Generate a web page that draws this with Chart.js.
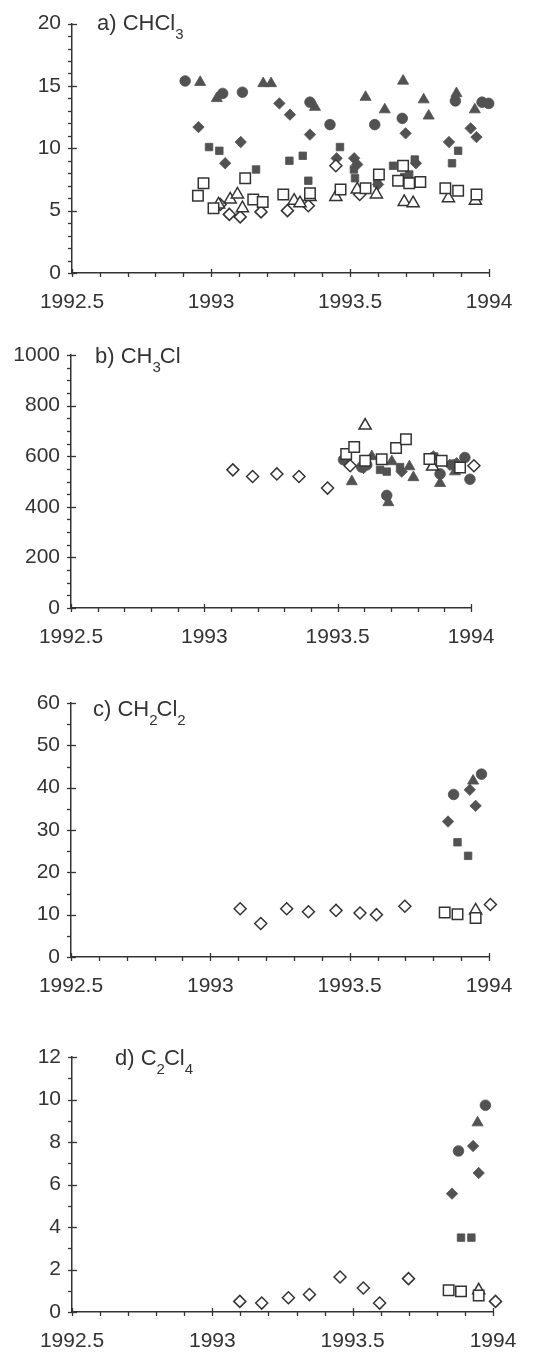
<!DOCTYPE html>
<html>
<head>
<meta charset="utf-8">
<script src="https://cdn.jsdelivr.net/npm/chart.js@4.4.1/dist/chart.umd.min.js"></script>
<style>
  html, body { margin: 0; padding: 0; background: #fff; }
  body { width: 537px; height: 1353px; position: relative; overflow: hidden; }
  canvas { position: absolute; left: 0; }
</style>
</head>
<body>
<canvas id="panelA" width="537" height="330" style="top:0px"></canvas>
<canvas id="panelB" width="537" height="330" style="top:330px"></canvas>
<canvas id="panelC" width="537" height="340" style="top:660px"></canvas>
<canvas id="panelD" width="537" height="353" style="top:1000px"></canvas>
<script>
// ---- shared axis labels ----
const xTickLabels = ['1992.5', '1993', '1993.5', '1994'];
const yTicksA = ['0', '5', '10', '15', '20'];
const yTicksB = ['0', '200', '400', '600', '800', '1000'];
const yTicksC = ['0', '10', '20', '30', '40', '50', '60'];
const yTicksD = ['0', '2', '4', '6', '8', '10', '12'];

// ---- a) CHCl3 : [decimal year, concentration] ----
const chcl3Circle = [[1992.907,15.4],[1993.042,14.4],[1993.113,14.5],[1993.356,13.7],[1993.428,11.9],[1993.589,11.9],[1993.688,12.4],[1993.879,13.8],[1993.975,13.7],[1993.999,13.6]];
const chcl3Triangle = [[1992.961,15.3],[1993.021,14.0],[1993.188,15.2],[1993.216,15.2],[1993.374,13.3],[1993.556,14.1],[1993.625,13.1],[1993.691,15.4],[1993.765,13.9],[1993.783,12.6],[1993.883,14.4],[1993.949,13.1]];
const chcl3Diamond = [[1992.955,11.7],[1993.051,8.8],[1993.107,10.5],[1993.246,13.6],[1993.284,12.7],[1993.356,11.1],[1993.452,9.2],[1993.515,9.2],[1993.526,8.7],[1993.601,7.1],[1993.700,11.2],[1993.737,8.8],[1993.856,10.5],[1993.934,11.6],[1993.955,10.9]];
const chcl3Square = [[1992.993,10.1],[1993.030,9.8],[1993.162,8.3],[1993.282,9.0],[1993.330,9.4],[1993.350,7.4],[1993.464,10.1],[1993.514,8.3],[1993.518,7.6],[1993.598,7.2],[1993.655,8.6],[1993.695,7.7],[1993.713,7.9],[1993.733,9.1],[1993.867,8.8],[1993.889,9.8]];
const chcl3OpenSquare = [[1992.953,6.2],[1992.973,7.2],[1993.009,5.2],[1993.123,7.6],[1993.152,5.9],[1993.186,5.7],[1993.260,6.3],[1993.356,6.4],[1993.466,6.7],[1993.556,6.8],[1993.604,7.9],[1993.673,7.4],[1993.691,8.6],[1993.713,7.2],[1993.753,7.3],[1993.843,6.8],[1993.889,6.6],[1993.955,6.3]];
const chcl3OpenTriangle = [[1993.027,5.5],[1993.069,5.9],[1993.095,6.3],[1993.113,5.2],[1993.299,5.8],[1993.320,5.6],[1993.356,6.1],[1993.449,6.1],[1993.526,6.7],[1993.595,6.3],[1993.695,5.7],[1993.727,5.6],[1993.854,6.0],[1993.951,5.8]];
const chcl3OpenDiamond = [[1993.033,5.5],[1993.066,4.7],[1993.105,4.5],[1993.180,4.9],[1993.275,5.0],[1993.350,5.4],[1993.449,8.6],[1993.535,6.3]];

// ---- b) CH3Cl ----
const ch3clCircle = [[1993.522,586],[1993.590,557],[1993.609,566],[1993.684,445],[1993.884,530],[1993.936,566],[1993.977,595],[1993.996,509]];
const ch3clTriangle = [[1993.553,500],[1993.628,599],[1993.690,417],[1993.703,579],[1993.769,559],[1993.784,516],[1993.884,493],[1993.940,539]];
const ch3clDiamond = [[1993.528,582],[1993.597,553],[1993.740,539],[1993.859,599],[1993.921,566],[1993.946,572]];
const ch3clSquare = [[1993.659,546],[1993.684,539],[1993.734,557],[1993.862,599],[1993.890,583]];
const ch3clOpenSquare = [[1993.532,609],[1993.562,636],[1993.603,582],[1993.665,588],[1993.719,632],[1993.756,667],[1993.844,589],[1993.890,582],[1993.959,555]];
const ch3clOpenTriangle = [[1993.603,721],[1993.856,559]];
const ch3clOpenDiamond = [[1993.107,546],[1993.181,520],[1993.272,530],[1993.355,520],[1993.462,474],[1993.547,562],[1994.011,562]];

// ---- c) CH2Cl2 ----
const ch2cl2Circle = [[1993.873,38.4],[1993.973,43.2]];
const ch2cl2Triangle = [[1993.943,41.6]];
const ch2cl2Diamond = [[1993.853,32.0],[1993.931,39.5],[1993.952,35.7]];
const ch2cl2Square = [[1993.887,27.1],[1993.925,23.9]];
const ch2cl2OpenSquare = [[1993.841,10.5],[1993.887,10.1],[1993.952,9.2]];
const ch2cl2OpenTriangle = [[1993.952,11.0]];
const ch2cl2OpenDiamond = [[1993.107,11.4],[1993.181,7.9],[1993.274,11.4],[1993.352,10.7],[1993.451,11.0],[1993.537,10.4],[1993.596,10.0],[1993.698,12.0],[1994.005,12.4]];

// ---- d) C2Cl4 ----
const c2cl4Circle = [[1993.877,7.58],[1993.973,9.73]];
const c2cl4Triangle = [[1993.945,8.91]];
const c2cl4Diamond = [[1993.854,5.57],[1993.929,7.81],[1993.949,6.54]];
const c2cl4Square = [[1993.886,3.5],[1993.923,3.5]];
const c2cl4OpenSquare = [[1993.842,1.02],[1993.886,0.97],[1993.949,0.78]];
const c2cl4OpenTriangle = [[1993.949,1.02]];
const c2cl4OpenDiamond = [[1993.098,0.50],[1993.176,0.42],[1993.271,0.67],[1993.346,0.82],[1993.455,1.65],[1993.538,1.13],[1993.596,0.42],[1993.699,1.57],[1994.009,0.50]];

// ---- marker styles ----
const INK = '#333333';
const FILL = '#525252';
const FONT = "'Liberation Sans', Arial, Helvetica, sans-serif";
const SYMBOLS = {
  circle:       { pointStyle: 'circle',   radius: 5.3, filled: true },
  triangle:     { pointStyle: 'triangle', radius: 6.4, filled: true },
  diamond:      { pointStyle: 'rectRot',  radius: 5.7, filled: true },
  square:       { pointStyle: 'rect',     radius: 5.3, filled: true },
  openSquare:   { pointStyle: 'rect',     radius: 7.4, filled: false },
  openTriangle: { pointStyle: 'triangle', radius: 7.0, filled: false },
  openDiamond:  { pointStyle: 'rectRot',  radius: 6.0, filled: false }
};

function dataset(points, symbolName) {
  const s = SYMBOLS[symbolName];
  return {
    label: symbolName,
    data: points.map(([x, y]) => ({ x, y })),
    pointStyle: s.pointStyle,
    pointRadius: s.radius,
    pointHoverRadius: s.radius,
    backgroundColor: s.filled ? FILL : '#ffffff',
    borderColor: s.filled ? FILL : INK,
    pointBorderWidth: s.filled ? 0.8 : 1.5,
    showLine: false,
    clip: false
  };
}

// minor/major tick marks and the panel caption with subscripts
const panelDecor = {
  id: 'panelDecor',
  afterDraw(chart, args, opts) {
    const ctx = chart.ctx;
    const xs = chart.scales.x, ys = chart.scales.y;
    const axisY = ys.bottom, axisX = xs.left;
    ctx.save();
    ctx.strokeStyle = INK;
    ctx.lineWidth = 1.3;
    // x ticks every 0.1 year, long ones every half year
    for (let i = 0; i <= 15; i++) {
      const v = 1992.5 + i * 0.1;
      const px = Math.round(xs.getPixelForValue(v)) + 0.5;
      const major = i % 5 === 0;
      ctx.beginPath();
      ctx.moveTo(px, major ? axisY - 4 : axisY);
      ctx.lineTo(px, axisY + 4);
      ctx.stroke();
    }
    // y ticks
    const n = Math.round(ys.max / opts.yMinor);
    const per = Math.round(opts.yMajor / opts.yMinor);
    for (let i = 0; i <= n; i++) {
      const v = i * opts.yMinor;
      const py = Math.round(ys.getPixelForValue(v)) + 0.5;
      const major = i % per === 0;
      ctx.beginPath();
      ctx.moveTo(axisX - 4, py);
      ctx.lineTo(major ? axisX + 5 : axisX, py);
      ctx.stroke();
    }
    // caption
    const t = opts.title;
    let x = t.x;
    ctx.fillStyle = INK;
    ctx.textBaseline = 'alphabetic';
    ctx.textAlign = 'left';
    for (const seg of t.parts) {
      const sub = seg.startsWith('_');
      const txt = sub ? seg.slice(1) : seg;
      ctx.font = (sub ? '15px ' : '22px ') + FONT;
      ctx.fillText(txt, x, sub ? t.y + 9 : t.y);
      x += ctx.measureText(txt).width + (sub ? -1 : 0);
    }
    ctx.restore();
  }
};

function makePanel(id, cfg) {
  const tickFont = { family: FONT, size: 21 };
  return new Chart(document.getElementById(id), {
    type: 'scatter',
    data: { datasets: cfg.series.map(([pts, sym]) => dataset(pts, sym)) },
    options: {
      responsive: false,
      animation: false,
      events: [],
      layout: { padding: { left: 0, right: cfg.padRight, top: cfg.padTop, bottom: 0 } },
      plugins: {
        legend: { display: false },
        tooltip: { enabled: false },
        panelDecor: { title: cfg.title, yMinor: cfg.yMinor, yMajor: cfg.yStep }
      },
      scales: {
        x: {
          type: 'linear',
          min: 1992.5,
          max: 1994,
          afterFit(scale) { scale.height = cfg.xAxisHeight; },
          grid: { display: false, drawTicks: false },
          border: { display: true, color: INK, width: 1.5 },
          ticks: {
            stepSize: 0.5,
            padding: 17,
            maxRotation: 0,
            autoSkip: false,
            font: tickFont,
            color: INK,
            callback: (v) => xTickLabels[Math.round((v - 1992.5) * 2)]
          }
        },
        y: {
          type: 'linear',
          min: 0,
          max: cfg.yMax,
          afterFit(scale) { scale.width = cfg.left; },
          grid: { display: false, drawTicks: false },
          border: { display: true, color: INK, width: 1.5 },
          ticks: {
            stepSize: cfg.yStep,
            padding: 11,
            autoSkip: false,
            font: tickFont,
            color: INK,
            callback: (v) => cfg.yLabels[Math.round(v / cfg.yStep)]
          }
        }
      }
    },
    plugins: [panelDecor]
  });
}

makePanel('panelA', {
  left: 72, padRight: 48, padTop: 19, xAxisHeight: 57,
  yMax: 20, yStep: 5, yMinor: 1, yLabels: yTicksA,
  title: { x: 97, y: 30, parts: ['a) CHCl', '_3'] },
  series: [
    [chcl3OpenSquare, 'openSquare'], [chcl3OpenTriangle, 'openTriangle'], [chcl3OpenDiamond, 'openDiamond'],
    [chcl3Square, 'square'], [chcl3Diamond, 'diamond'], [chcl3Circle, 'circle'], [chcl3Triangle, 'triangle']
  ]
});

makePanel('panelB', {
  left: 71, padRight: 66, padTop: 25, xAxisHeight: 52,
  yMax: 1000, yStep: 200, yMinor: 50, yLabels: yTicksB,
  title: { x: 95, y: 33, parts: ['b) CH', '_3', 'Cl'] },
  series: [
    [ch3clOpenDiamond, 'openDiamond'], [ch3clOpenSquare, 'openSquare'], [ch3clOpenTriangle, 'openTriangle'],
    [ch3clSquare, 'square'], [ch3clDiamond, 'diamond'], [ch3clCircle, 'circle'], [ch3clTriangle, 'triangle']
  ]
});

makePanel('panelC', {
  left: 71, padRight: 48, padTop: 43, xAxisHeight: 43,
  yMax: 60, yStep: 10, yMinor: 5, yLabels: yTicksC,
  title: { x: 93, y: 56, parts: ['c) CH', '_2', 'Cl', '_2'] },
  series: [
    [ch2cl2OpenDiamond, 'openDiamond'], [ch2cl2OpenSquare, 'openSquare'], [ch2cl2OpenTriangle, 'openTriangle'],
    [ch2cl2Square, 'square'], [ch2cl2Diamond, 'diamond'], [ch2cl2Circle, 'circle'], [ch2cl2Triangle, 'triangle']
  ]
});

makePanel('panelD', {
  left: 72, padRight: 44, padTop: 57, xAxisHeight: 41,
  yMax: 12, yStep: 2, yMinor: 1, yLabels: yTicksD,
  title: { x: 115, y: 65, parts: ['d) C', '_2', 'Cl', '_4'] },
  series: [
    [c2cl4OpenDiamond, 'openDiamond'], [c2cl4OpenSquare, 'openSquare'], [c2cl4OpenTriangle, 'openTriangle'],
    [c2cl4Square, 'square'], [c2cl4Diamond, 'diamond'], [c2cl4Circle, 'circle'], [c2cl4Triangle, 'triangle']
  ]
});
</script>
</body>
</html>
